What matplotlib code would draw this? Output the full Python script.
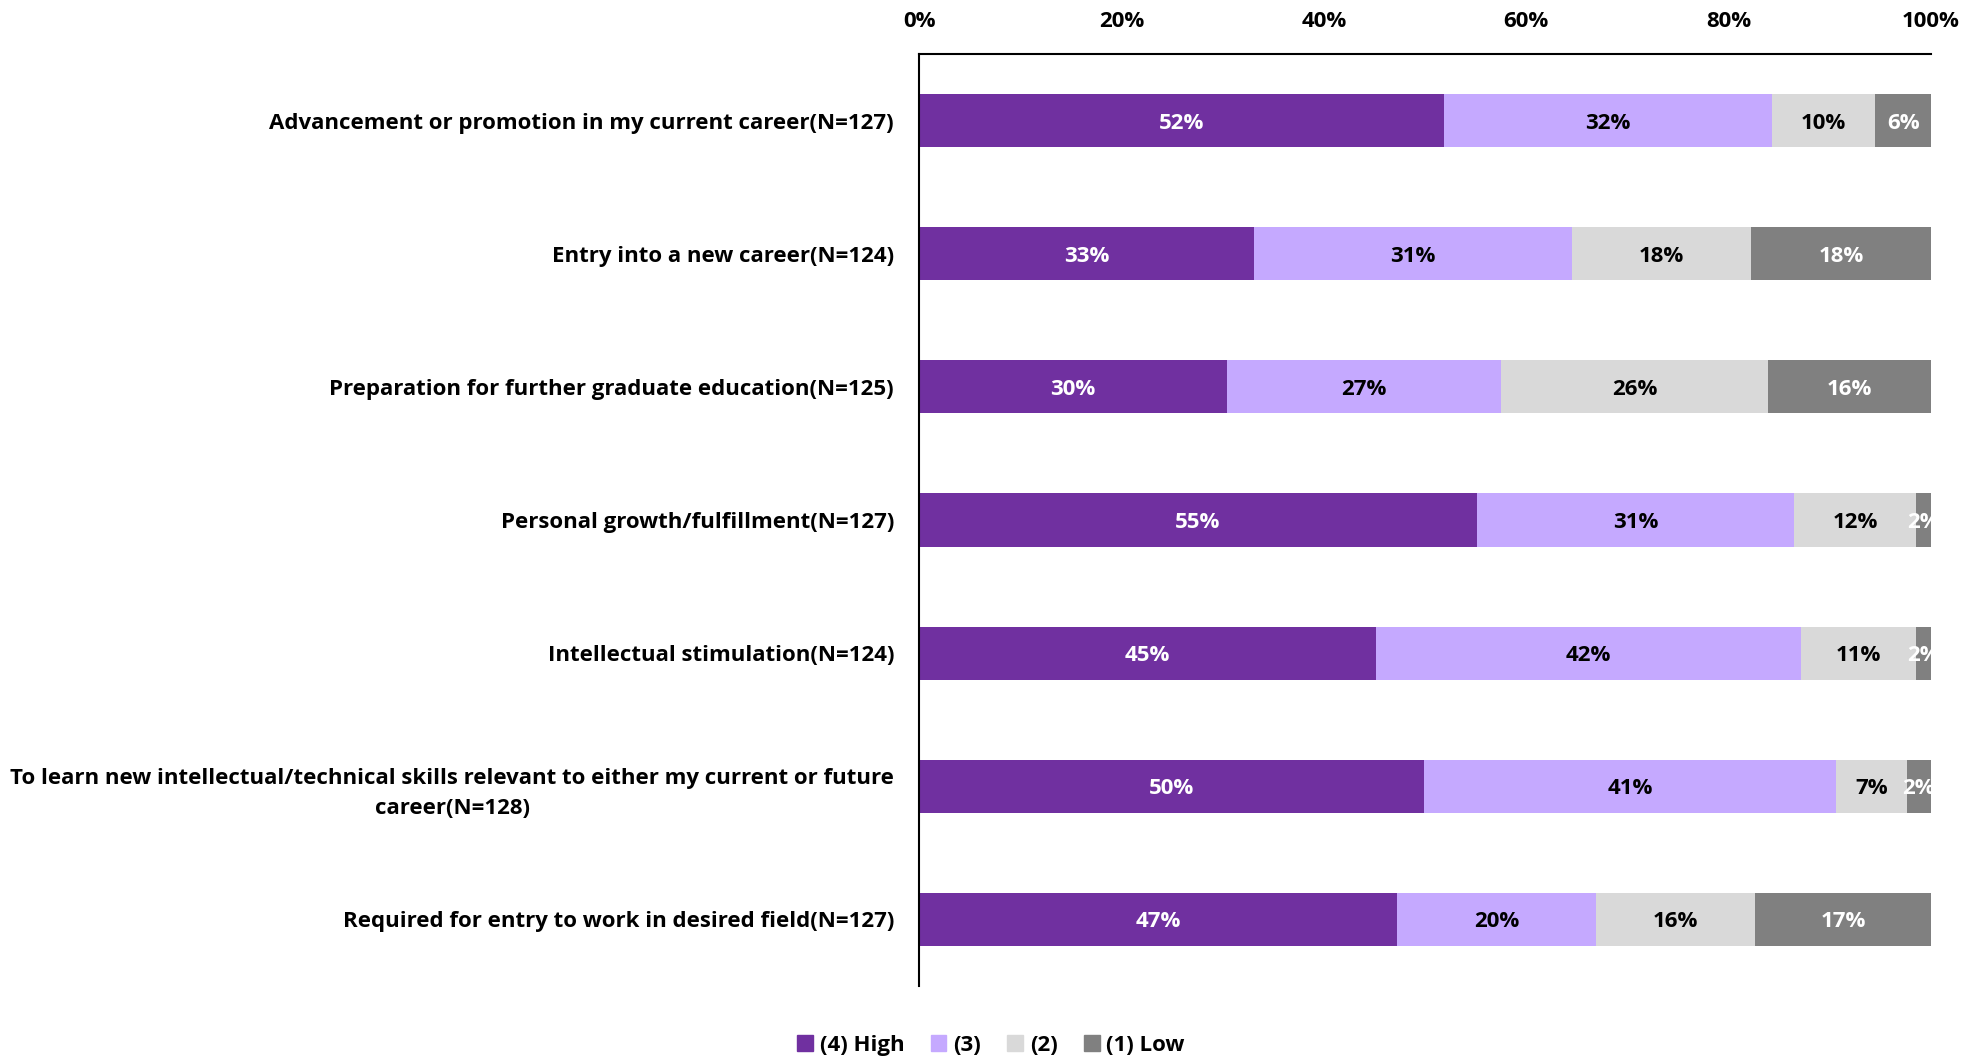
import numpy as np
import matplotlib.pyplot as plt
from matplotlib.patches import Patch

plt.rcParams['font.family'] = ['Open Sans', 'DejaVu Sans']
plt.rcParams['font.weight'] = 'bold'

categories = [
    "Advancement or promotion in my current career(N=127)",
    "Entry into a new career(N=124)",
    "Preparation for further graduate education(N=125)",
    "Personal growth/fulfillment(N=127)",
    "Intellectual stimulation(N=124)",
    "To learn new intellectual/technical skills relevant to either my current or future\ncareer(N=128)",
    "Required for entry to work in desired field(N=127)",
]
series_names = ["(4) High", "(3)", "(2)", "(1) Low"]
high = [51.9, 33.1, 30.4, 55.1, 45.2, 49.9, 47.2]
three = [32.4, 31.4, 27.1, 31.4, 41.9, 40.7, 19.7]
two = [10.2, 17.7, 26.4, 12.0, 11.4, 7.0, 15.7]
low = [5.5, 17.8, 16.1, 1.5, 1.5, 2.4, 17.4]
ticks = [0, 20, 40, 60, 80, 100]

colors = ["#7030A0", "#C5A9FF", "#D9D9D9", "#808080"]
text_colors = ["white", "black", "black", "white"]
fs = 16

fig = plt.figure(figsize=(19.82, 10.58), dpi=100)
ax = fig.add_axes([0.4637, 0.068, 0.5106, 0.881])

y = np.arange(len(categories))
left = np.zeros(len(categories))
for vals, c, tc, name in zip([high, three, two, low], colors, text_colors, series_names):
    vals = np.array(vals)
    bars = ax.barh(y, vals, left=left, height=0.4, color=c, label=name)
    for b, v in zip(bars, vals):
        ax.text(b.get_x() + b.get_width() / 2, b.get_y() + b.get_height() / 2,
                f"{round(v):.0f}%", ha="center", va="center_baseline", color=tc,
                fontsize=fs, fontweight="bold", clip_on=True)
    left += vals

ax.set_xlim(0, 100)
ax.set_ylim(len(categories) - 0.5, -0.5)
ax.set_yticks(y)
ax.set_yticklabels(categories, fontsize=fs, fontweight="bold",
                   multialignment="center", linespacing=1.55)
ax.set_xticks(ticks)
ax.set_xticklabels([f"{t}%" for t in ticks], fontsize=fs, fontweight="bold")
ax.xaxis.tick_top()
ax.tick_params(axis="x", length=0, pad=16)
ax.tick_params(axis="y", length=0, pad=18)
for s in ["right", "bottom"]:
    ax.spines[s].set_visible(False)
ax.spines["top"].set_linewidth(1.5)
ax.spines["left"].set_linewidth(1.5)

handles = [Patch(color=c, label=n) for c, n in zip(colors, series_names)]
fig.legend(handles=handles, loc="center", bbox_to_anchor=(0.5, 0.012), ncol=4,
           frameon=False, fontsize=fs, handlelength=0.7, handleheight=0.7,
           handletextpad=0.3, columnspacing=1.2)

fig.savefig("out.png", dpi=100)
